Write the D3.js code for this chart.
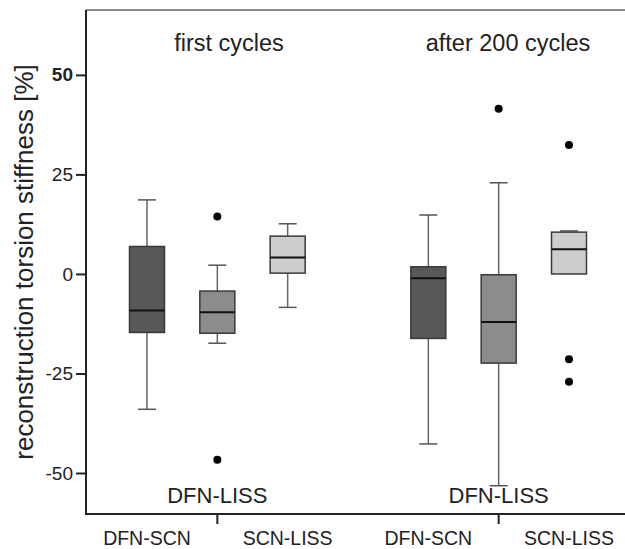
<!DOCTYPE html>
<html>
<head>
<meta charset="utf-8">
<script src="https://cdn.jsdelivr.net/npm/d3@7"></script>
<style>
  body { margin: 0; background: #fff; }
  text { font-family: "Liberation Sans", Arial, sans-serif; fill: #222; }
</style>
</head>
<body>
<div class="canvas"></div>
<script>
// box data, first three = first cycles, last three = after 200 cycles
const slots = ['f-DFN-SCN', 'f-DFN-LISS', 'f-SCN-LISS', 'gap', 'a-DFN-SCN', 'a-DFN-LISS', 'a-SCN-LISS'];
const boxSlots = ['f-DFN-SCN', 'f-DFN-LISS', 'f-SCN-LISS', 'a-DFN-SCN', 'a-DFN-LISS', 'a-SCN-LISS'];
const whiskerLow = [-34.0, -17.4, -8.4, -42.7, -53.2, 0];
const q1 = [-14.7, -14.9, 0.2, -16.2, -22.4, 0];
const median = [-9.2, -9.6, 4.1, -1.1, -12.1, 6.2];
const q3 = [6.9, -4.3, 9.5, 1.8, -0.2, 10.5];
const whiskerHigh = [18.6, 2.2, 12.6, 14.8, 22.9, 10.8];
const outliers = [[], [14.4, -46.7], [], [], [41.5], [32.4, -21.4, -27.1]];
const fills = ['#585858', '#8c8c8c', '#cdcdcd', '#585858', '#8c8c8c', '#cdcdcd'];

const groupTitles = ['first cycles', 'after 200 cycles'];
const bottomLabels = ['DFN-SCN', 'SCN-LISS', 'DFN-SCN', 'SCN-LISS'];
const bottomLabelSlots = ['f-DFN-SCN', 'f-SCN-LISS', 'a-DFN-SCN', 'a-SCN-LISS'];
const innerLabelSlots = ['f-DFN-LISS', 'a-DFN-LISS'];
const yTicks = [-50, -25, 0, 25, 50];

const width = 625, height = 549;
const plot = {left: 86, top: 10, right: 625, bottom: 514};

const svg = d3.select('.canvas')
  .append('svg')
    .attr('width', width)
    .attr('height', height);

const y = d3.scaleLinear()
  .domain([-60.3, 66.3])
  .range([plot.bottom, plot.top]);

const x = d3.scalePoint()
  .domain(slots)
  .range([147, 569]);

const boxW = 35, capW = 18;

// frame
svg.append('line')
  .attr('x1', plot.left).attr('x2', plot.right)
  .attr('y1', plot.top).attr('y2', plot.top)
  .attr('stroke', '#666').attr('stroke-width', 1.5);

// y axis
const yAxis = svg.append('g')
  .attr('transform', `translate(${plot.left},0)`)
  .call(d3.axisLeft(y).tickValues(yTicks).tickSize(10).tickPadding(3).tickFormat(d => String(d)));
yAxis.select('.domain').remove();
yAxis.selectAll('.tick line').attr('stroke', '#222').attr('stroke-width', 2);
yAxis.selectAll('.tick text')
  .style('font-size', '19px')
  .style('font-family', '"Liberation Sans", Arial, sans-serif')
  .attr('fill', '#222');
yAxis.selectAll('.tick text').filter(d => d === 50).style('font-weight', 'bold');

svg.append('line')
  .attr('x1', plot.left).attr('x2', plot.left)
  .attr('y1', plot.top).attr('y2', plot.bottom + 1)
  .attr('stroke', '#222').attr('stroke-width', 2);

// x axis
svg.append('line')
  .attr('x1', plot.left - 1).attr('x2', plot.right)
  .attr('y1', plot.bottom).attr('y2', plot.bottom)
  .attr('stroke', '#222').attr('stroke-width', 2);

svg.selectAll('.xtick')
  .data(innerLabelSlots)
  .enter().append('line')
    .attr('class', 'xtick')
    .attr('x1', d => x(d)).attr('x2', d => x(d))
    .attr('y1', plot.bottom).attr('y2', plot.bottom + 10)
    .attr('stroke', '#222').attr('stroke-width', 2);

svg.selectAll('.xlabel')
  .data(bottomLabels)
  .enter().append('text')
    .attr('class', 'xlabel')
    .attr('x', (d, i) => x(bottomLabelSlots[i]))
    .attr('y', 545)
    .attr('text-anchor', 'middle')
    .style('font-size', '19.5px')
    .text(d => d);

// boxes
const boxes = svg.selectAll('.box')
  .data(boxSlots)
  .enter().append('g')
    .attr('class', 'box')
    .attr('transform', d => `translate(${x(d)},0)`);

boxes.append('line')
  .attr('x1', 0).attr('x2', 0)
  .attr('y1', (d, i) => y(whiskerHigh[i]))
  .attr('y2', (d, i) => y(whiskerLow[i]))
  .attr('stroke', '#666').attr('stroke-width', 1.5);

boxes.append('line')
  .attr('x1', -capW / 2).attr('x2', capW / 2)
  .attr('y1', (d, i) => y(whiskerHigh[i]))
  .attr('y2', (d, i) => y(whiskerHigh[i]))
  .attr('stroke', '#555').attr('stroke-width', 1.5);

boxes.filter((d, i) => whiskerLow[i] < q1[i]).append('line')
  .attr('x1', -capW / 2).attr('x2', capW / 2)
  .attr('y1', d => y(whiskerLow[boxSlots.indexOf(d)]))
  .attr('y2', d => y(whiskerLow[boxSlots.indexOf(d)]))
  .attr('stroke', '#555').attr('stroke-width', 1.5);

boxes.append('rect')
  .attr('x', -boxW / 2)
  .attr('width', boxW)
  .attr('y', (d, i) => y(q3[i]))
  .attr('height', (d, i) => y(q1[i]) - y(q3[i]))
  .attr('fill', (d, i) => fills[i])
  .attr('stroke', '#3a3a3a').attr('stroke-width', 1.5);

boxes.append('line')
  .attr('x1', -boxW / 2).attr('x2', boxW / 2)
  .attr('y1', (d, i) => y(median[i]))
  .attr('y2', (d, i) => y(median[i]))
  .attr('stroke', '#111').attr('stroke-width', 2);

boxes.selectAll('circle')
  .data((d, i) => outliers[i])
  .enter().append('circle')
    .attr('cx', 0)
    .attr('cy', d => y(d))
    .attr('r', 4)
    .attr('fill', '#000');

// inner labels
svg.selectAll('.inlabel')
  .data(innerLabelSlots)
  .enter().append('text')
    .attr('class', 'inlabel')
    .attr('x', d => x(d))
    .attr('y', 503)
    .attr('text-anchor', 'middle')
    .style('font-size', '22px')
    .text('DFN-LISS');

// group titles
svg.selectAll('.title')
  .data(groupTitles)
  .enter().append('text')
    .attr('class', 'title')
    .attr('x', (d, i) => i === 0 ? 229 : 508)
    .attr('y', 51)
    .attr('text-anchor', 'middle')
    .style('font-size', '23.5px')
    .text(d => d);

// y label
svg.append('text')
  .attr('transform', `translate(33,262) rotate(-90)`)
  .attr('text-anchor', 'middle')
  .style('font-size', '26px')
  .text('reconstruction torsion stiffness [%]');
</script>
</body>
</html>
